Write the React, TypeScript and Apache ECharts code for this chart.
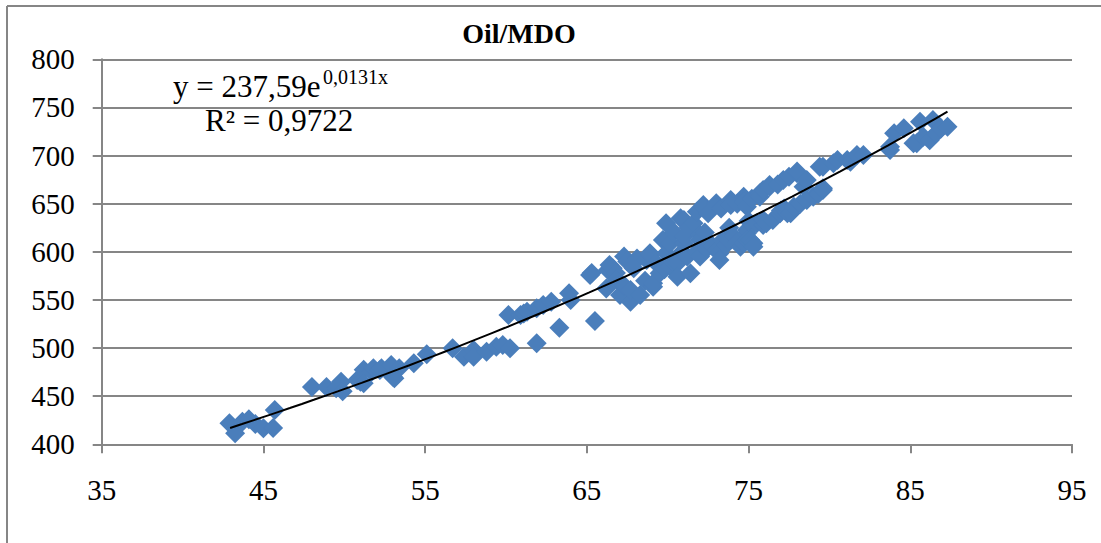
import React, { useEffect, useRef } from "react";
import * as echarts from "echarts";

const TITLE = "Oil/MDO";
const EQUATION_MAIN = "y = 237,59e";
const EQUATION_EXP = "0,0131x";
const R_SQUARED = "R² = 0,9722";

const X_MIN = 35;
const X_MAX = 95;
const X_STEP = 10;
const Y_MIN = 400;
const Y_MAX = 800;
const Y_STEP = 50;

// trend line: y = A * e^(B x), drawn over the data range
const TREND_A = 237.59;
const TREND_B = 0.0131;
const TREND_X_START = 42.94;
const TREND_X_END = 87.3;

const lowCluster: [number, number][] = [
  [42.9, 421.8], [43.25, 411.4], [43.7, 423.5], [44.1, 426], [44.5, 421],
  [45.0, 416.6], [45.6, 417], [45.7, 435.6],
];
const cluster48to55: [number, number][] = [
  [48.0, 459.5], [48.9, 459.5], [49.5, 458.2], [49.8, 465], [49.9, 455],
  [50.8, 466.8], [51.0, 465], [51.2, 477.5], [51.2, 463.4], [51.7, 475.4],
  [51.8, 479], [52.2, 477.2], [52.3, 479], [52.9, 482.4], [53.0, 470.2],
  [53.1, 468.6], [53.4, 479], [54.3, 484.2], [55.1, 493.5],
];
const cluster56to64: [number, number][] = [
  [56.7, 499.7], [57.4, 491], [58.0, 498], [58.0, 491], [58.8, 496.2],
  [59.4, 501.4], [59.8, 503.2], [60.25, 499.7], [60.15, 534.3], [60.9, 534.3],
  [61.1, 536], [61.3, 537.8], [61.9, 504.9], [61.9, 541.3], [62.3, 544.7],
  [62.8, 548.2], [63.3, 521], [63.9, 556.9], [64.0, 549.9],
];
const cluster65to69: [number, number][] = [
  [65.2, 575.9], [65.3, 578], [65.5, 528], [66.2, 562], [66.3, 581],
  [66.4, 586.3], [66.6, 583], [66.8, 578], [66.85, 570.7], [67.05, 555],
  [67.3, 595], [67.3, 565], [67.5, 590], [67.7, 548], [67.7, 560.3],
  [67.9, 583], [68.1, 593], [68.1, 591.5], [68.3, 555], [68.6, 570],
  [68.7, 591.5], [68.9, 596.7], [68.9, 598.4], [69.1, 563.7], [69.1, 567.3],
  [69.3, 588], [69.5, 577.7], [69.7, 612.3], [69.8, 582],
];
const cluster70to72: [number, number][] = [
  [69.9, 598.4], [69.9, 629.6], [70.15, 608.8], [70.15, 584.5], [70.3, 590],
  [70.4, 620], [70.6, 588], [70.6, 574.1], [70.8, 634.8], [70.9, 600],
  [71.0, 608.8], [71.0, 633], [71.0, 615.7], [71.2, 595], [71.3, 625],
  [71.4, 577.7], [71.6, 629.6], [71.8, 641.7], [71.8, 600], [72.0, 617.5],
  [72.0, 595], [72.0, 612.3], [72.2, 648.6], [72.2, 646.9], [72.3, 620],
  [72.4, 603], [72.5, 640], [72.6, 608.8], [72.8, 605.3],
];
const cluster73to76: [number, number][] = [
  [73.0, 650.4], [73.0, 601.9], [73.2, 598.4], [73.2, 591.5], [73.3, 645],
  [73.4, 612.3], [73.6, 607], [73.65, 614], [73.8, 625], [73.9, 653.8],
  [73.9, 648.6], [74.1, 615.7], [74.3, 650], [74.3, 610], [74.5, 605.3],
  [74.7, 608.8], [74.7, 657.3], [74.7, 652], [74.9, 619.2], [74.9, 622.6],
  [74.9, 646.9], [74.9, 612.3], [75.0, 632], [75.1, 612.3], [75.2, 655],
  [75.3, 608.8], [75.3, 605.3], [75.5, 629.6], [75.7, 660.8], [75.7, 657.3],
  [75.9, 627.8], [75.9, 664.2], [75.9, 633],
];
const cluster76to82: [number, number][] = [
  [76.1, 629.6], [76.3, 669.4], [76.3, 667.7], [76.5, 633], [76.8, 670],
  [76.95, 640], [77.0, 643], [77.15, 674.6], [77.2, 645], [77.4, 640],
  [77.5, 678], [77.6, 640], [77.8, 646.9], [78.0, 681.6], [78.0, 683.3],
  [78.2, 650], [78.4, 667.7], [78.6, 674.6], [78.6, 653.8], [79.0, 657.3],
  [79.3, 660], [79.4, 688.4], [79.6, 664.2], [79.6, 666], [79.6, 688.4],
  [80.25, 692], [80.5, 695.4], [81.1, 695.4], [81.3, 693.6], [81.7, 700.6],
  [82.1, 700.6],
];
const cluster83to88: [number, number][] = [
  [83.75, 705.8], [83.75, 709.2], [84.0, 723.1], [84.6, 728.3], [85.2, 712.7],
  [85.4, 712.7], [85.6, 735.2], [85.8, 719.6], [86.2, 716], [86.4, 737],
  [86.6, 723.1], [86.9, 728], [87.3, 730],
];

const scatterPoints = [
  ...lowCluster, ...cluster48to55, ...cluster56to64, ...cluster65to69,
  ...cluster70to72, ...cluster73to76, ...cluster76to82, ...cluster83to88,
];

const TREND_SAMPLES = 60;
const trendPoints: [number, number][] = Array.from({ length: TREND_SAMPLES + 1 }, (_, i) => {
  const x = TREND_X_START + ((TREND_X_END - TREND_X_START) * i) / TREND_SAMPLES;
  return [x, TREND_A * Math.exp(TREND_B * x)];
});

const FONT = "Liberation Serif";
const GRAY = "#868686";
const BLUE = "#4A7EBB";

export default function App() {
  const ref = useRef<HTMLDivElement>(null);

  useEffect(() => {
    if (!ref.current) return;
    const chart = echarts.init(ref.current, null, { renderer: "svg" });
    chart.setOption({
      animation: false,
      backgroundColor: "#ffffff",
      textStyle: { fontFamily: FONT },
      grid: {
        left: 101.7,
        right: 1101 - 1072,
        top: 59.3,
        bottom: 543 - 444.3,
        containLabel: false,
        outerBoundsMode: "none",
      },
      xAxis: {
        type: "value",
        min: X_MIN,
        max: X_MAX,
        interval: X_STEP,
        axisLine: { show: true, onZero: false, lineStyle: { color: GRAY, width: 2 } },
        axisTick: { show: true, length: 9, lineStyle: { color: GRAY, width: 2 } },
        splitLine: { show: false },
        axisLabel: { color: "#000", fontFamily: FONT, fontSize: 29, margin: 31 },
      },
      yAxis: {
        type: "value",
        min: Y_MIN,
        max: Y_MAX,
        interval: Y_STEP,
        axisLine: { show: true, lineStyle: { color: GRAY, width: 2 } },
        axisTick: { show: true, length: 9, lineStyle: { color: GRAY, width: 2 } },
        splitLine: { show: true, lineStyle: { color: GRAY, width: 2 } },
        axisLabel: { color: "#000", fontFamily: FONT, fontSize: 29, margin: 27 },
      },
      series: [
        {
          type: "scatter",
          data: scatterPoints,
          symbol: "diamond",
          symbolSize: 20,
          itemStyle: { color: BLUE, opacity: 1 },
          z: 2,
        },
        {
          type: "line",
          data: trendPoints,
          showSymbol: false,
          symbol: "none",
          lineStyle: { color: "#000", width: 2 },
          z: 3,
        },
      ],
      graphic: [
        {
          type: "line",
          shape: { x1: 7, y1: 6, x2: 1101, y2: 6 },
          style: { stroke: GRAY, lineWidth: 2 },
        },
        {
          type: "line",
          shape: { x1: 7, y1: 6, x2: 7, y2: 543 },
          style: { stroke: GRAY, lineWidth: 2 },
        },
        {
          type: "text",
          x: 519,
          y: 33,
          style: {
            text: TITLE,
            fontFamily: FONT,
            fontSize: 28,
            fontWeight: "bold",
            fill: "#000",
            align: "center",
            verticalAlign: "middle",
          },
        },
        {
          type: "text",
          x: 173,
          y: 86,
          style: {
            text: EQUATION_MAIN,
            fontFamily: FONT,
            fontSize: 31,
            fill: "#000",
            align: "left",
            verticalAlign: "middle",
          },
        },
        {
          type: "text",
          x: 323,
          y: 77,
          style: {
            text: EQUATION_EXP,
            fontFamily: FONT,
            fontSize: 20,
            fill: "#000",
            align: "left",
            verticalAlign: "middle",
          },
        },
        {
          type: "text",
          x: 205,
          y: 120,
          style: {
            text: R_SQUARED,
            fontFamily: FONT,
            fontSize: 31,
            fill: "#000",
            align: "left",
            verticalAlign: "middle",
          },
        },
      ],
    });
    return () => chart.dispose();
  }, []);

  return (
    <div
      ref={ref}
      style={{ position: "fixed", left: 0, top: 0, width: 1101, height: 543, background: "#fff" }}
    />
  );
}
